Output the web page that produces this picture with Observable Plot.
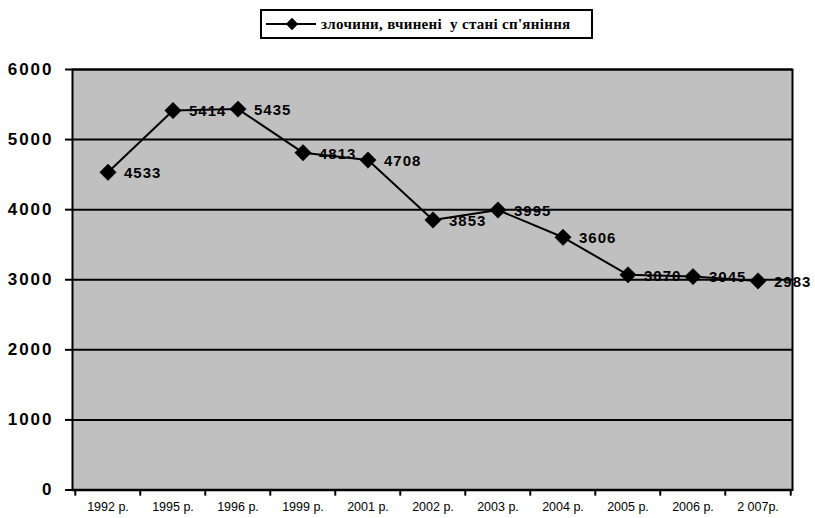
<!DOCTYPE html>
<html>
<head>
<meta charset="utf-8">
<script src="https://cdn.jsdelivr.net/npm/d3@7"></script>
<script src="https://cdn.jsdelivr.net/npm/@observablehq/plot@0.6"></script>
<style>
  body { margin: 0; background: #fff; }
  #wrap { position: relative; width: 815px; height: 518px; }
  #legend {
    position: absolute; left: 260px; top: 9px; width: 329px; height: 26px;
    border: 2px solid #000; background: #fff;
    display: flex; align-items: center; box-sizing: content-box;
  }
  #legend span {
    font-family: "Liberation Serif", "Times New Roman", serif; font-weight: bold; font-size: 15px;
    white-space: pre; letter-spacing: 0.3px;
  }
  #legend svg { margin-left: 4px; margin-right: 5px; }
  #chart svg g[aria-label="y-axis tick label"] { font-size: 17px; font-weight: bold; letter-spacing: 2px; }
  #chart svg g[aria-label="x-axis tick label"] { font-size: 12.5px; }
  #chart svg g[aria-label="text"] { font-size: 15px; font-weight: bold; letter-spacing: 1px; }
</style>
</head>
<body>
<div id="wrap">
  <div id="chart"></div>
  <div id="legend"></div>
</div>
<script>
const categories = ["1992 р.", "1995 р.", "1996 р.", "1999 р.", "2001 р.", "2002 р.", "2003 р.", "2004 р.", "2005 р.", "2006 р.", "2 007р."];
const values = [4533, 5414, 5435, 4813, 4708, 3853, 3995, 3606, 3070, 3045, 2983];
const yTicks = [0, 1000, 2000, 3000, 4000, 5000, 6000];
const seriesName = "злочини, вчинені  у стані сп'яніння";

const data = categories.map((c, i) => ({year: c, value: values[i]}));

const W = 815, H = 518;
const mL = 72, mR = 23, mT = 69, mB = 28.5;
const bw = (W - mL - mR) / categories.length;

const chart = Plot.plot({
  width: W,
  height: H,
  marginLeft: mL,
  marginRight: mR,
  marginTop: mT,
  marginBottom: mB,
  style: {fontFamily: "'Liberation Sans', Arial, sans-serif", background: "#fff", overflow: "visible"},
  x: {type: "band", domain: categories, padding: 0, label: null},
  y: {domain: [0, 6000], ticks: yTicks, label: null},
  marks: [
    Plot.frame({fill: "#c0c0c0", stroke: null}),
    Plot.gridY(yTicks, {stroke: "#000", strokeOpacity: 1, strokeWidth: 2}),
    Plot.frame({stroke: "#000", strokeWidth: 2}),
    Plot.ruleY([0], {stroke: "#000", strokeWidth: 2.5}),
    Plot.ruleX(categories, {x: d => d, y1: 0, y2: -88, dx: -bw / 2, stroke: "#000", strokeWidth: 2, clip: false}),
    Plot.ruleX(categories.slice(-1), {x: d => d, y1: 0, y2: -88, dx: bw / 2, stroke: "#000", strokeWidth: 2, clip: false}),
    Plot.axisY(yTicks, {tickSize: 7, tickPadding: 12, strokeWidth: 2, tickFormat: d => String(d), fill: "#000"}),
    Plot.axisX({tickSize: 0, tickPadding: 12, fill: "#000"}),
    Plot.line(data, {x: "year", y: "value", stroke: "#000", strokeWidth: 2}),
    Plot.dot(data, {x: "year", y: "value", symbol: "diamond2", r: 7.4, fill: "#000", stroke: "#000", strokeWidth: 0.5}),
    Plot.text(data, {x: "year", y: "value", text: d => String(d.value), dx: 16, dy: 1, textAnchor: "start", fill: "#000"})
  ]
});
document.getElementById("chart").appendChild(chart);

// legend
const leg = document.getElementById("legend");
const ls = d3.create("svg").attr("width", 50).attr("height", 16);
ls.append("line").attr("x1", 0).attr("x2", 50).attr("y1", 8).attr("y2", 8).attr("stroke", "#000").attr("stroke-width", 2);
ls.append("path").attr("d", d3.symbol(d3.symbolDiamond2, 100)()).attr("transform", "translate(26,8)").attr("fill", "#000");
leg.appendChild(ls.node());
const span = document.createElement("span");
span.textContent = seriesName;
leg.appendChild(span);
</script>
</body>
</html>
